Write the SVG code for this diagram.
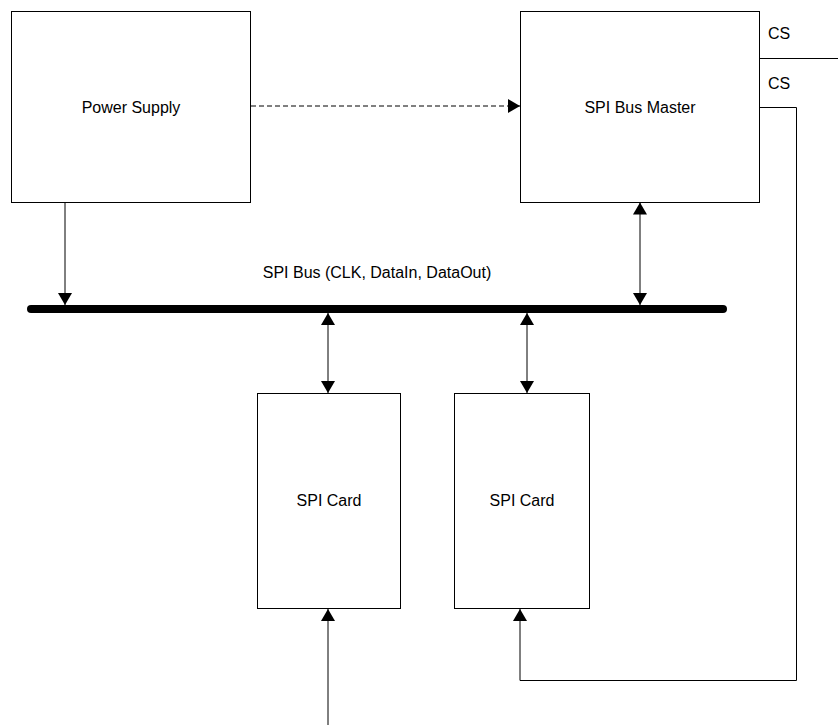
<svg xmlns="http://www.w3.org/2000/svg" width="838" height="725" viewBox="0 0 838 725">
<style>
.box{fill:#fff;stroke:#000;stroke-width:1}
.ln{fill:none;stroke:#000;stroke-width:1}
text{font-family:"Liberation Sans",Arial,sans-serif;font-size:16px;fill:#000}
</style>
<defs>
<marker id="ah" viewBox="0 0 12 14" refX="12" refY="7" markerWidth="12" markerHeight="14" markerUnits="userSpaceOnUse" orient="auto-start-reverse">
<path d="M0,0 L12,7 L0,14 Z" fill="#000"/>
</marker>
</defs>
<rect width="838" height="725" fill="#fff"/>
<g id="connectors">
<line class="ln" x1="251" y1="106" x2="520" y2="106" stroke-dasharray="5,3" marker-end="url(#ah)"/>
<line class="ln" x1="65" y1="202" x2="65" y2="305" marker-end="url(#ah)"/>
<line class="ln" x1="640" y1="202.5" x2="640" y2="305" marker-start="url(#ah)" marker-end="url(#ah)"/>
<line class="ln" x1="328" y1="313" x2="328" y2="393" marker-start="url(#ah)" marker-end="url(#ah)"/>
<line class="ln" x1="527" y1="313" x2="527" y2="393" marker-start="url(#ah)" marker-end="url(#ah)"/>
<line class="ln" x1="328" y1="725" x2="328" y2="609" marker-end="url(#ah)"/>
<polyline class="ln" points="760,58.5 838,58.5"/>
<polyline class="ln" points="760,107.5 796.5,107.5 796.5,680.5 520,680.5 520,609" marker-end="url(#ah)"/>
</g>
<g id="bus">
<line x1="31" y1="309" x2="723" y2="309" stroke="#000" stroke-width="8" stroke-linecap="round"/>
<text x="377" y="278" text-anchor="middle">SPI Bus (CLK, DataIn, DataOut)</text>
</g>
<g id="power-supply">
<rect class="box" x="11.5" y="11.5" width="239" height="191"/>
<text x="131" y="113" text-anchor="middle">Power Supply</text>
</g>
<g id="spi-bus-master">
<rect class="box" x="520.5" y="11.5" width="239" height="191"/>
<text x="640" y="113" text-anchor="middle">SPI Bus Master</text>
<text x="768" y="39">CS</text>
<text x="768" y="89">CS</text>
</g>
<g id="spi-card-1">
<rect class="box" x="257.5" y="393.5" width="143" height="215"/>
<text x="329" y="506" text-anchor="middle">SPI Card</text>
</g>
<g id="spi-card-2">
<rect class="box" x="454.5" y="393.5" width="135" height="215"/>
<text x="522" y="506" text-anchor="middle">SPI Card</text>
</g>
</svg>
